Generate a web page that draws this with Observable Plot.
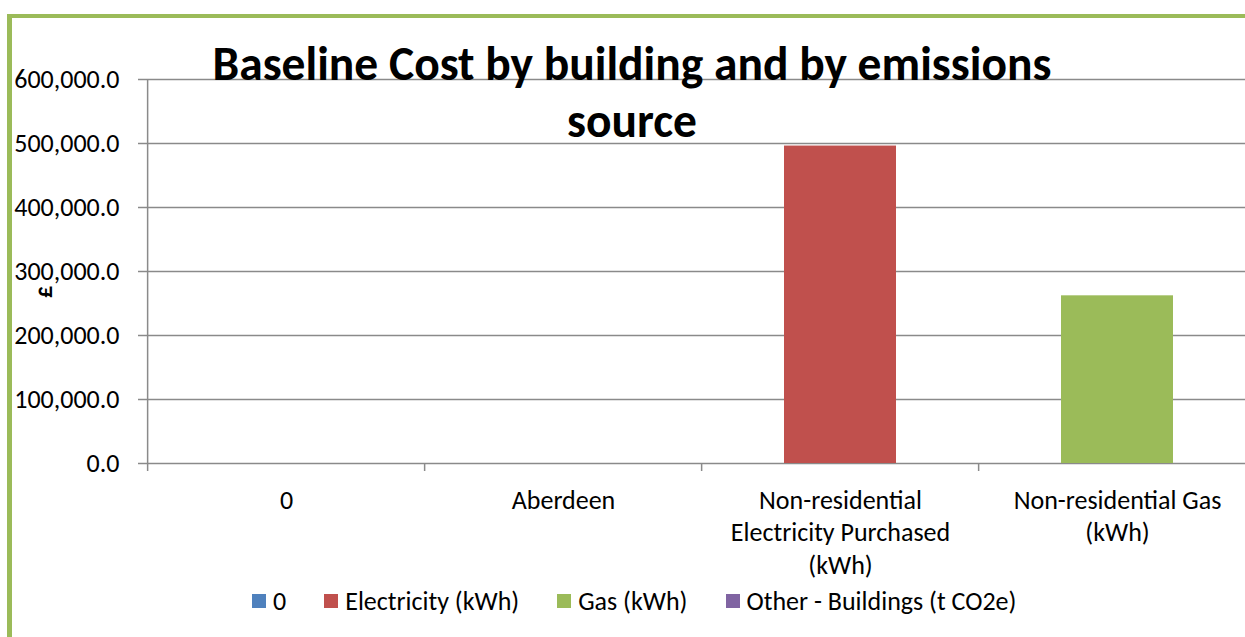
<!DOCTYPE html>
<html>
<head>
<meta charset="utf-8">
<script src="https://cdn.jsdelivr.net/npm/d3@7"></script>
<script src="https://cdn.jsdelivr.net/npm/@observablehq/plot@0.6"></script>
<style>
  html, body { margin: 0; padding: 0; overflow: hidden; background: #fff; }
  #wrap { position: relative; width: 1245px; height: 637px; overflow: hidden; background: #fff;
          font-family: Carlito, Calibri, 'Open Sans', sans-serif; color: #000; }
  #frame { position: absolute; left: 7px; top: 14px; width: 2000px; height: 2000px;
           border-left: 5px solid #9BBB59; border-top: 4px solid #9BBB59; box-sizing: border-box; }
  #chart { position: absolute; left: 0; top: 0; width: 1257px; }
  #chart svg { max-width: none !important; }
  #title { position: absolute; left: 132px; top: 36px; width: 1000px; text-align: center;
           font-weight: bold; font-size: 47.5px; line-height: 57px; }
  #ylabel { position: absolute; left: 44px; top: 292px; transform: translate(-50%, -50%) rotate(-90deg);
            font-weight: bold; font-size: 24px; line-height: 1; }
  #legend { position: absolute; left: 252px; top: 587px; display: flex; align-items: center;
            font-size: 26px; line-height: 28px; white-space: nowrap; }
  .item { display: flex; align-items: center; margin-right: 38px; }
  .sw { width: 14px; height: 14px; margin-right: 7px; }
</style>
</head>
<body>
<div id="wrap">
  <div id="frame"></div>
  <div id="chart"></div>
  <div id="title">Baseline Cost by building and by emissions<br>source</div>
  <div id="ylabel">£</div>
  <div id="legend"></div>
</div>
<script>
// ---- data ----
const categories = ["0", "Aberdeen", "Non-residential Electricity Purchased (kWh)", "Non-residential Gas (kWh)"];
const tickLabels = ["0", "Aberdeen", "Non-residential\nElectricity Purchased\n(kWh)", "Non-residential Gas\n(kWh)"];
const seriesNames = ["0", "Electricity (kWh)", "Gas (kWh)", "Other - Buildings (t CO2e)"];
const seriesColors = ["#4F81BD", "#C0504D", "#9BBB59", "#8064A2"];
const valuesZero = [0, 0, 0, 0];
const valuesElectricity = [0, 0, 496000, 0];
const valuesGas = [0, 0, 0, 262000];
const valuesOther = [0, 0, 0, 0];
const yTicks = [0, 100000, 200000, 300000, 400000, 500000, 600000];

const seriesValues = [valuesZero, valuesElectricity, valuesGas, valuesOther];
const rows = [];
seriesNames.forEach((s, i) => categories.forEach((c, j) => {
  if (seriesValues[i][j] > 0) rows.push({category: c, series: s, value: seriesValues[i][j]});
}));

// ---- layout ----
const W = 1257, H = 590, ML = 146, MT = 79, MB = 127, MR = 0;
const step = (W - ML - MR) / categories.length;
const gray = "#8a8a8a";
const fontFam = "Carlito, Calibri, 'Open Sans', sans-serif";

const chart = Plot.plot({
  width: W,
  height: H,
  marginLeft: ML,
  marginRight: MR,
  marginTop: MT,
  marginBottom: MB,
  style: {fontFamily: fontFam, fontSize: "26px", color: "#000", background: "transparent", overflow: "visible", maxWidth: "none"},
  x: {domain: categories, paddingInner: 0.597, paddingOuter: 0.2985, label: null},
  y: {domain: [0, 600000], label: null},
  color: {domain: seriesNames, range: seriesColors},
  marks: [
    Plot.gridY(yTicks, {stroke: gray, strokeOpacity: 1, strokeWidth: 1.5}),
    Plot.ruleX([categories[0]], {x: d => d, dx: -step / 2, stroke: gray, strokeWidth: 1.5}),
    Plot.barY(rows, {x: "category", y: "value", fill: "series"}),
    Plot.axisY({ticks: yTicks, tickSize: 8, tickPadding: 19, tickFormat: d3.format(",.1f"),
                stroke: gray, strokeWidth: 1.5, fontSize: 26, label: null}),
    Plot.axisX({tickSize: 8, tickFormat: () => "", dx: -step / 2, stroke: gray, strokeWidth: 1.5, label: null}),
    Plot.axisX({tickSize: 0, tickPadding: 22, lineHeight: 1.25, fontSize: 26, label: null,
                tickFormat: d => tickLabels[categories.indexOf(d)]})
  ]
});
chart.style.maxWidth = "none";
document.getElementById("chart").appendChild(chart);

// ---- legend ----
const legend = document.getElementById("legend");
seriesNames.forEach((s, i) => {
  const item = document.createElement("div");
  item.className = "item";
  const sw = document.createElement("div");
  sw.className = "sw";
  sw.style.background = seriesColors[i];
  const t = document.createElement("span");
  t.textContent = s;
  item.appendChild(sw);
  item.appendChild(t);
  legend.appendChild(item);
});
</script>
</body>
</html>
